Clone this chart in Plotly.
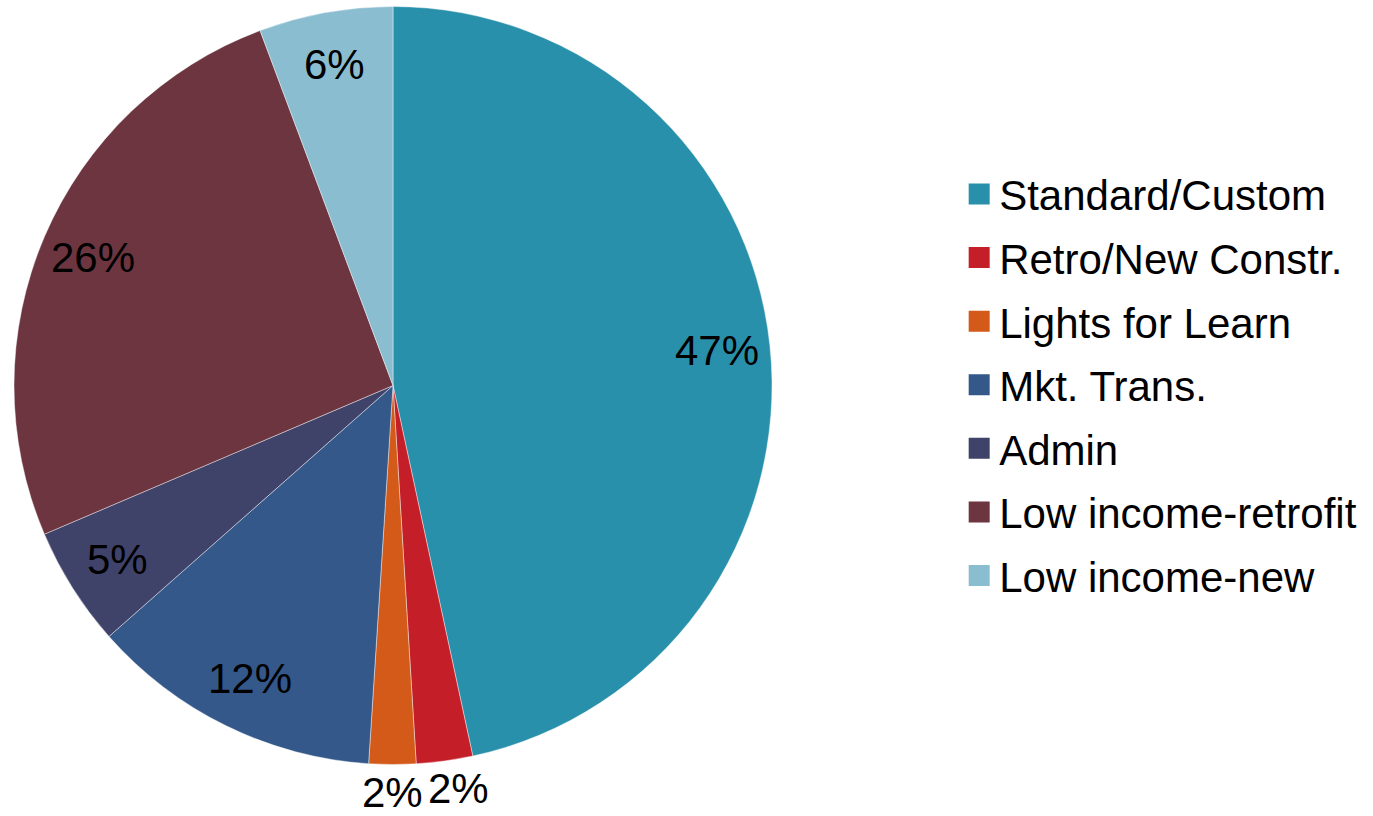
import math
import plotly.graph_objects as go

categories = ["Standard/Custom", "Retro/New Constr.", "Lights for Learn", "Mkt. Trans.",
              "Admin", "Low income-retrofit", "Low income-new"]
values = [46.6, 2.4, 2.0, 12.45, 5.1, 25.7, 5.7]
colors = ["#2990AB", "#C41E28", "#D35A18", "#345889", "#3F436A", "#6C3540", "#8ABDD0"]
label_outside = [False, True, True, False, False, False, False]

W, H = 1373, 816
FONT = "Liberation Sans, Arial, sans-serif"
# pie geometry (pixels)
CX, CY, R = 393, 385.5, 379

fig = go.Figure()
fig.add_trace(go.Pie(
    labels=categories,
    values=values,
    sort=False,
    direction="clockwise",
    rotation=0,
    marker=dict(colors=colors, line=dict(color="rgba(255,255,255,0.6)", width=0.7)),
    textinfo="none",
    domain=dict(x=[(CX - R) / W, (CX + R) / W], y=[1 - (CY + R) / H, 1 - (CY - R) / H]),
    hoverinfo="label+percent",
    showlegend=False,
))

# percentage labels placed along each slice's bisector (Excel-like best fit)
total = sum(values)
cum = 0.0
annotations = []
for v, outside in zip(values, label_outside):
    mid = (cum + v / 2) / total * 2 * math.pi
    cum += v
    r = R + 28 if outside else 0.86 * R
    px = CX + r * math.sin(mid)
    py = CY - r * math.cos(mid)
    if outside and abs(math.sin(mid)) > 0.05:
        px += 10 * (1 if math.sin(mid) > 0 else -1)
    annotations.append(dict(
        x=px / W, y=1 - py / H, xref="paper", yref="paper",
        text=f"{round(v / total * 100)}%", showarrow=False,
        font=dict(family=FONT, size=42, color="black"),
        xanchor="center", yanchor="middle", borderpad=0,
    ))

# legend entries
for name, c in zip(categories, colors):
    fig.add_trace(go.Scatter(
        x=[None], y=[None], mode="markers", name=name, legendgroup=name,
        marker=dict(symbol="square", size=16, color=c, line=dict(color=c, width=5)),
        hoverinfo="skip",
    ))

fig.update_layout(
    width=W, height=H,
    margin=dict(l=0, r=0, t=0, b=0),
    paper_bgcolor="white",
    plot_bgcolor="white",
    font=dict(family=FONT, size=42, color="black"),
    showlegend=True,
    xaxis=dict(visible=False),
    yaxis=dict(visible=False),
    annotations=annotations,
    legend=dict(x=0.6986, xanchor="left", y=0.528, yanchor="middle",
                font=dict(family=FONT, size=42, color="black"),
                bgcolor="rgba(0,0,0,0)", tracegroupgap=6, itemsizing="trace"),
)

fig.write_html("out.html", config={"displayModeBar": False},
               post_script="document.body.style.margin='0px';")
